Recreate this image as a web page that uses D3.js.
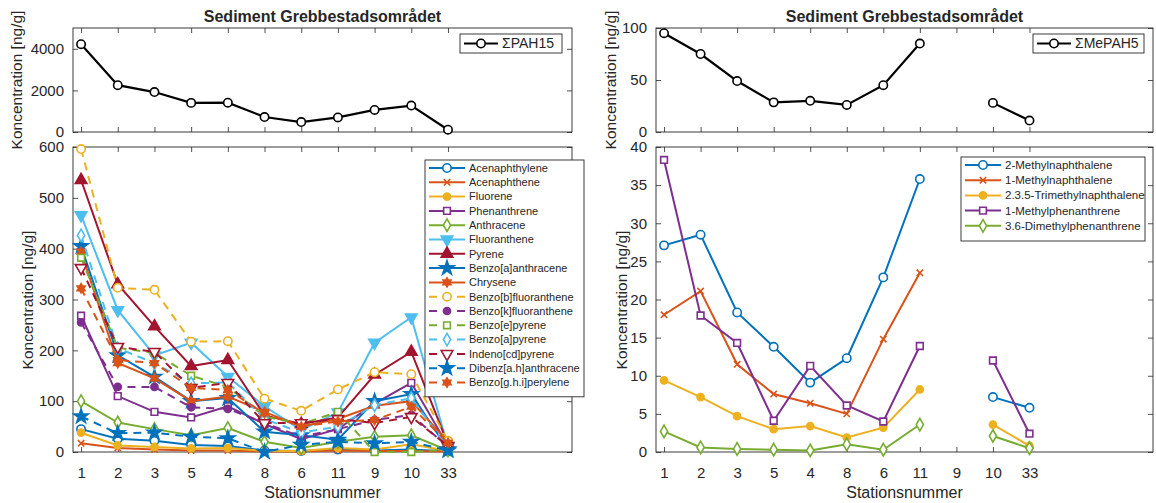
<!DOCTYPE html>
<html>
<head>
<meta charset="utf-8">
<script src="https://cdn.jsdelivr.net/npm/d3@7"></script>
<style>
body { margin: 0; background: #fff; }
text { font-family: "Liberation Sans", Arial, sans-serif; fill: #262626; }
</style>
</head>
<body>
<svg id="chart" width="1156" height="503"></svg>
<script>
// station order along the x axis
var stations = ["1", "2", "3", "5", "4", "8", "6", "11", "9", "10", "33"];

// sums (top panels)
var sumPAH15 = [4220, 2250, 1920, 1400, 1410, 720, 480, 700, 1060, 1270, 110];
var sumMePAH5 = [95, 75, 49, 28.5, 30, 26, 45, 85, null, 28, 11];

// individual PAH, ng/g
var acenaphthylene = [45, 26, 22, 14, 12, 3, 2, 5, 3, 5, 1];
var acenaphthene = [17, 8, 5, 3, 3, 1, 1, 3, 2, 2, 1];
var fluorene = [38, 13, 10, 7, 8, 2, 2, 8, 5, 15, 2];
var phenanthrene = [268, 110, 79, 68, 90, 55, 25, 45, 95, 136, 12];
var anthracene = [100, 58, 45, 33, 47, 20, 8, 20, 30, 33, 3];
var fluoranthene = [466, 279, 190, 215, 148, 90, 43, 78, 215, 265, 10];
var pyrene = [535, 330, 247, 169, 181, 72, 55, 68, 152, 197, 15];
var benzoAAnthracene = [405, 190, 148, 100, 106, 40, 33, 24, 100, 114, 5];
var chrysene = [394, 175, 145, 100, 109, 79, 50, 65, 91, 100, 20];
var benzoBFluoranthene = [596, 323, 319, 217, 218, 105, 81, 123, 157, 153, 22];
var benzoKFluoranthene = [255, 128, 128, 88, 85, 57, 30, 45, 63, 73, 10];
var benzoEPyrene = [382, 205, 195, 150, 128, 70, 55, 79, 0, 0, 5];
var benzoAPyrene = [426, 204, 175, 135, 137, 65, 38, 50, 92, 106, 8];
var indenoPyrene = [362, 207, 197, 126, 136, 57, 57, 65, 57, 69, 12];
var dibenzAnthracene = [70, 37, 38, 30, 27, 0, 14, 20, 17, 20, 3];
var benzoGhiPerylene = [322, 181, 175, 126, 122, 76, 50, 60, 63, 89, 18];

// methylated PAH, ng/g
var methylNaph2 = [27.1, 28.5, 18.3, 13.8, 9.1, 12.3, 22.9, 35.8, null, 7.2, 5.8];
var methylNaph1 = [18.0, 21.1, 11.5, 7.6, 6.4, 5.0, 14.8, 23.5, null, null, null];
var trimethylNaph = [9.4, 7.2, 4.7, 3.0, 3.4, 1.9, 3.2, 8.2, null, 3.6, 0.8];
var methylPhen1 = [38.3, 17.9, 14.3, 4.1, 11.3, 6.1, 4.0, 13.9, null, 12.0, 2.4];
var dimethylPhen = [2.7, 0.6, 0.4, 0.3, 0.2, 1.0, 0.3, 3.6, null, 2.1, 0.5];

var pahNames = ["Acenaphthylene", "Acenaphthene", "Fluorene", "Phenanthrene", "Anthracene",
  "Fluoranthene", "Pyrene", "Benzo[a]anthracene", "Chrysene", "Benzo[b]fluoranthene",
  "Benzo[k]fluoranthene", "Benzo[e]pyrene", "Benzo[a]pyrene", "Indeno[cd]pyrene",
  "Dibenz[a.h]anthracene", "Benzo[g.h.i]perylene"];
var pahValues = [acenaphthylene, acenaphthene, fluorene, phenanthrene, anthracene,
  fluoranthene, pyrene, benzoAAnthracene, chrysene, benzoBFluoranthene,
  benzoKFluoranthene, benzoEPyrene, benzoAPyrene, indenoPyrene,
  dibenzAnthracene, benzoGhiPerylene];
var meNames = ["2-Methylnaphthalene", "1-Methylnaphthalene", "2.3.5-Trimethylnaphthalene",
  "1-Methylphenanthrene", "3.6-Dimethylphenanthrene"];
var meValues = [methylNaph2, methylNaph1, trimethylNaph, methylPhen1, dimethylPhen];

// matlab colour order and line styles
var colours = ["#0072BD", "#D95319", "#EDB120", "#7E2F8E", "#77AC30", "#4DBEEE", "#A2142F"];
var pahMarkers = ["circle", "x", "dot", "square", "diamond", "triDown", "triUp", "star", "hex",
  "circle", "dot", "square", "diamond", "triDown", "star", "hex"];
var pahFilled = [false, true, true, false, false, true, true, true, true,
  false, true, false, false, false, true, true];
var meMarkers = ["circle", "x", "dot", "square", "diamond"];
var meFilled = [false, true, true, false, false];

var svg = d3.select("#chart");
var axisCol = "#262626";

var symbolHex = {
  draw: function(ctx, size) {
    var r = Math.sqrt(size) * 0.62;
    for (var k = 0; k < 2; k++) {
      for (var j = 0; j < 3; j++) {
        var a = (k * 60 - 90 + j * 120) * Math.PI / 180;
        if (j == 0) ctx.moveTo(r * Math.cos(a), r * Math.sin(a));
        else ctx.lineTo(r * Math.cos(a), r * Math.sin(a));
      }
      ctx.closePath();
    }
  }
};

function markerPath(type) {
  var s = d3.symbol();
  if (type == "circle") return s.type(d3.symbolCircle).size(55)();
  if (type == "dot") return s.type(d3.symbolCircle).size(40)();
  if (type == "square") return s.type(d3.symbolSquare).size(45)();
  if (type == "diamond") return s.type(d3.symbolDiamond).size(45)();
  if (type == "triUp" || type == "triDown") return s.type(d3.symbolTriangle).size(58)();
  if (type == "star") return s.type(d3.symbolStar).size(62)();
  if (type == "hex") return s.type(symbolHex).size(55)();
  if (type == "x") return s.type(d3.symbolTimes || d3.symbolX).size(28)();
}

function drawMarker(g, type, filled, col, cx, cy) {
  g.append("path")
    .attr("d", markerPath(type))
    .attr("transform", "translate(" + cx + "," + cy + ")" + (type == "triDown" ? " rotate(180)" : ""))
    .attr("fill", filled ? col : "#fff")
    .attr("stroke", col)
    .attr("stroke-width", 1.6);
}

function drawFrame(x, y, yTicks, showLabels) {
  var g = svg.append("g");
  var xr = x.range(), yr = y.range();
  var idx = d3.range(1, stations.length + 1);
  var fmt = showLabels ? function(i) { return stations[i - 1]; } : function() { return ""; };

  g.append("g").attr("transform", "translate(0," + yr[0] + ")")
    .call(d3.axisBottom(x).tickValues(idx).tickFormat(fmt).tickSizeInner(-5).tickSizeOuter(0).tickPadding(15));
  g.append("g").attr("transform", "translate(0," + yr[1] + ")")
    .call(d3.axisTop(x).tickValues(idx).tickFormat(function() { return ""; }).tickSizeInner(-5).tickSizeOuter(0));
  g.append("g").attr("transform", "translate(" + xr[0] + ",0)")
    .call(d3.axisLeft(y).tickValues(yTicks).tickFormat(d3.format("d")).tickSizeInner(-5).tickSizeOuter(0).tickPadding(9));
  g.append("g").attr("transform", "translate(" + xr[1] + ",0)")
    .call(d3.axisRight(y).tickValues(yTicks).tickFormat(function() { return ""; }).tickSizeInner(-5).tickSizeOuter(0));

  g.selectAll(".domain").remove();
  g.selectAll(".tick line").attr("stroke", axisCol).attr("stroke-width", 0.8);
  g.selectAll(".tick text").style("font-size", "15px").attr("fill", axisCol);

  g.append("rect")
    .attr("x", xr[0]).attr("y", yr[1])
    .attr("width", xr[1] - xr[0]).attr("height", yr[0] - yr[1])
    .attr("fill", "none").attr("stroke", axisCol).attr("stroke-width", 0.9);
}

function drawSeries(x, y, values, col, dashed, marker, filled, width) {
  var line = d3.line()
    .defined(function(d) { return d != null; })
    .x(function(d, i) { return x(i + 1); })
    .y(function(d) { return y(d); });
  svg.append("path").datum(values)
    .attr("d", line)
    .attr("fill", "none")
    .attr("stroke", col)
    .attr("stroke-width", width)
    .attr("stroke-dasharray", dashed ? "8,6" : null);
  var g = svg.append("g");
  values.forEach(function(v, i) {
    if (v != null) drawMarker(g, marker, filled, col, x(i + 1), y(v));
  });
}

function yLabel(cx, cy) {
  svg.append("text")
    .attr("transform", "translate(" + cx + "," + cy + ") rotate(-90)")
    .attr("text-anchor", "middle")
    .attr("dy", "0.35em")
    .style("font-size", "15.5px")
    .text("Koncentration [ng/g]");
}

function legendBox(x0, y0, w, h) {
  svg.append("rect").attr("x", x0).attr("y", y0).attr("width", w).attr("height", h)
    .attr("fill", "#fff").attr("stroke", axisCol).attr("stroke-width", 0.9);
}

function legendRow(x0, cy, name, col, dashed, marker, filled, fontSize, lineLen) {
  svg.append("line")
    .attr("x1", x0).attr("x2", x0 + lineLen).attr("y1", cy).attr("y2", cy)
    .attr("stroke", col).attr("stroke-width", 2)
    .attr("stroke-dasharray", dashed ? "8,6" : null);
  drawMarker(svg.append("g"), marker, filled, col, x0 + lineLen / 2, cy);
  svg.append("text").attr("x", x0 + lineLen + 4).attr("y", cy).attr("dy", "0.35em")
    .style("font-size", fontSize + "px").text(name);
}

function drawSide(left, right, sumVals, sumName, sumMax, sumTicks, lowMax, lowTicks,
                  names, values, markers, filled, legendX, legendRight, legendY, rowH, fontSize, sumLegend) {
  var x = d3.scaleLinear().domain([0.78, 14.38]).range([left, right]);
  var yTop = d3.scaleLinear().domain([0, sumMax]).range([132, 28]);
  var yLow = d3.scaleLinear().domain([0, lowMax]).range([452, 147]);

  drawFrame(x, yTop, sumTicks, false);
  drawFrame(x, yLow, lowTicks, true);

  // title
  svg.append("text").attr("x", (left + right) / 2).attr("y", 22)
    .attr("text-anchor", "middle").style("font-size", "16px").style("font-weight", "bold")
    .text("Sediment Grebbestadsområdet");

  // x label
  svg.append("text").attr("x", (left + right) / 2).attr("y", 498)
    .attr("text-anchor", "middle").style("font-size", "16px").text("Stationsnummer");

  // sum series
  drawSeries(x, yTop, sumVals, "#000", false, "circle", false, 2.2);

  // single compounds
  values.forEach(function(v, i) {
    drawSeries(x, yLow, v, colours[i % 7], i >= 9, markers[i], filled[i], 2);
  });

  // legends
  legendBox(sumLegend[0], 34, sumLegend[1] - sumLegend[0], 19);
  legendRow(sumLegend[0] + 4, 43.5, sumName, "#000", false, "circle", false, 14, 34);

  legendBox(legendX, legendY, legendRight - legendX, rowH * names.length + 8);
  names.forEach(function(n, i) {
    legendRow(legendX + 4, legendY + 8 + rowH * i, n, colours[i % 7], i >= 9,
      markers[i], filled[i], fontSize, 36);
  });
}

drawSide(73, 572, sumPAH15, "\u03A3PAH15", 5000, [0, 2000, 4000], 600, d3.range(0, 601, 100),
  pahNames, pahValues, pahMarkers, pahFilled, 425, 584, 160, 14.3, 11, [460, 562]);
drawSide(656, 1153, sumMePAH5, "\u03A3MePAH5", 100, [0, 50, 100], 40, d3.range(0, 41, 5),
  meNames, meValues, meMarkers, meFilled, 961, 1145, 157, 15.2, 11.5, [1033, 1144]);

yLabel(17, 80);
yLabel(28, 300);
yLabel(611, 80);
yLabel(622, 300);
</script>
</body>
</html>
